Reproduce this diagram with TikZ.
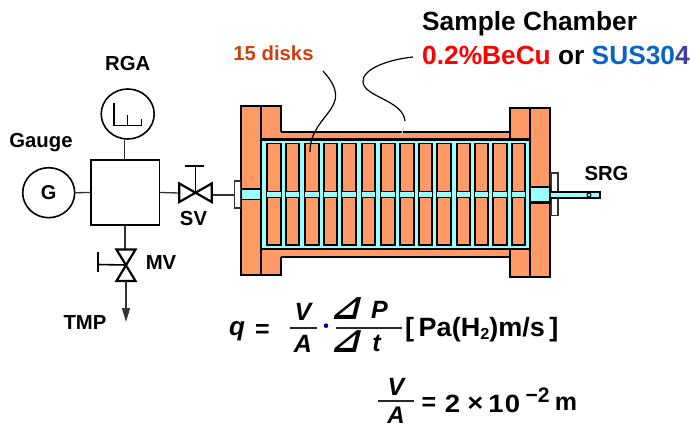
\documentclass[tikz,border=0pt]{standalone}
\usepackage{fontspec}
\setmainfont{Liberation Sans}
\newfontfamily\djv{DejaVu Sans}
\usetikzlibrary{shapes.geometric,arrows.meta}
\definecolor{cuorange}{HTML}{FF9966}
\definecolor{vaccyan}{HTML}{99FFFF}
\definecolor{diskred}{HTML}{CC4010}
\definecolor{susblue}{HTML}{0A64C8}
\definecolor{suspurple}{HTML}{4040A0}
\newcommand{\tx}[1]{\fontsize{#1}{#1}\selectfont\bfseries}
\newcommand{\wide}[1]{\scalebox{1.1}[1]{#1}}
\tikzset{
  x=1pt,y=-1pt,
  thick line/.style={line width=2.1pt,draw=black},
  thin line/.style={line width=1.3pt,draw=black!80},
  metal/.style={thick line,fill=cuorange},
  vac/.style={thick line,fill=vaccyan},
  lbl/.style={inner sep=0pt,font=\tx{20.3}},
  big/.style={inner sep=0pt,font=\tx{26.3}},
  eq/.style={inner sep=0pt,font=\tx{25}},
  eqit/.style={inner sep=0pt,font=\tx{25}\itshape},
  tri/.style={inner sep=0pt,font=\djv\tx{35},xslant=0.25,transform shape},
  fracline/.style={line width=1.6pt,draw=black!85},
  valve/.style={line width=2.2pt,draw=black,fill=white},
  round/.style={ellipse,draw=black,line width=1.6pt,inner sep=0pt},
}
\begin{document}
\begin{tikzpicture}
\useasboundingbox (0,0) rectangle (690,428);
% chamber body
\fill[cuorange] (261,132) rectangle (510,257);
\draw[thick line] (281,132) -- (510,132);
\draw[thick line] (281,257) -- (510,257);
\fill[cuorange] (261,106) rectangle (281,275);
\draw[thick line] (261,106) -- (281,106) -- (281,132);
\draw[thick line] (261,275) -- (281,275) -- (281,257);
\draw[metal] (241,106) rectangle (261,275);
\draw[metal] (510,108) rectangle (530,277);
\draw[metal] (530,108) rectangle (550,277);
\draw[vac] (261,139.5) rectangle (530,249);
\foreach \d in {267.3,286,305.3,324,342.3,361.7,381.3,400.3,418.7,437.3,456.7,475,493.3,511.7}{
  \draw[metal,line width=1.9pt] (\d,143.5) rectangle ++(13.4,101.5);
  \fill[vaccyan] (\d,192) rectangle ++(13.4,5.5);
  \draw[line width=1.7pt] (\d,191.5) -- ++(13.4,0);
  \draw[line width=1.7pt] (\d,197.5) -- ++(13.4,0);
}
% ports
\fill[vaccyan] (242,189.5) rectangle (260,199);
\draw[thick line,line width=1.5pt] (241,189) -- (261,189);
\draw[thick line,line width=1.5pt] (241,199.5) -- (261,199.5);
\draw[thin line,line width=1.5pt,fill=white] (234.5,181) rectangle (240.5,208);
\draw[thin line,fill=white] (551,173) rectangle (558,215.5);
\draw[vac] (530,187) rectangle (550,202.5);
\draw[thick line,fill=vaccyan,line width=1.7pt] (550,192) rectangle (600,198.3);
\draw[line width=1pt,fill=vaccyan] (589,195) circle (2);
% leaders
\coordinate (diskFrom) at (323,71);
\coordinate (diskTo) at (310,152);
\coordinate (chFrom) at (413,57);
\coordinate (chTo) at (405,121);
\draw[line width=1.2pt] (diskFrom) .. controls (340,90) and (338,100) .. (328,113) .. controls (318,126) and (310,135) .. (diskTo);
\draw[line width=1.2pt] (chFrom) .. controls (385,60) and (362,70) .. (363,82) .. controls (364,97) and (403,100) .. (chTo);
\draw[black!15,line width=1pt] (403.5,127) -- (401.5,135);
% left side instruments
\node[draw=black,line width=1.7pt,minimum width=68.3pt,minimum height=65pt,inner sep=0pt] (hub) at (125.2,192.5) {};
\node[round,minimum width=53pt,minimum height=50pt] (rga) at (127.7,114) {};
\node[round,minimum width=52pt,minimum height=50pt,font=\tx{20}] (gauge) at (48.7,192.7) {G};
\draw[line width=1.5pt] (114,103) -- (114,125.7) -- (141.7,125.7) -- (141.7,119);
\draw[line width=1.5pt] (127.7,115) -- (127.7,125.7);
\draw[thin line] (124.3,139) -- (124.3,160);
\draw[thin line] (gauge.east) -- (hub.west);
% SV
\coordinate (sv) at (195.3,193);
\coordinate (svL) at (179.3,193);
\coordinate (svR) at (211.7,195);
\coordinate (capL) at (234.5,195);
\draw[thin line] (hub.east) -- (svL);
\draw[thin line] (svR) -- (capL);
\draw[valve] (179.3,183.5) -- (211.7,202) -- (211.7,183.5) -- (179.3,202) -- cycle;
\draw[line width=1.6pt] (sv) -- (195.3,166);
\draw[line width=1.6pt] (185,166) -- (204,166);
% MV
\coordinate (mv) at (126,265);
\coordinate (mvT) at (125,249.5);
\coordinate (mvB) at (126,281);
\coordinate (tmp) at (126,322);
\draw[thin line] (hub.south -| mvT) -- (mvT);
\draw[valve] (116.5,249.5) -- (135.5,249.5) -- (116.5,281) -- (135.5,281) -- cycle;
\draw[line width=1.6pt] (mv) -- (98,264.5);
\draw[line width=1.6pt] (98,252) -- (98,272);
\draw[thin line,-{Triangle[length=14pt,width=8pt]}] (mvB) -- (tmp);
% labels
\node[lbl] (lrga) at (127.7,64) {RGA};
\node[lbl] (lgauge) at (41,142.5) {Gauge};
\node[lbl] (lsv) at (193.5,219) {SV};
\node[lbl] (lmv) at (161,263) {MV};
\node[lbl] (ltmp) at (85,323) {TMP};
\node[lbl] (lsrg) at (606.5,174) {SRG};
\node[lbl,text=diskred] (ldisks) at (273.5,53) {15 disks};
\node[big,anchor=west] (title) at (422,24) {Sample Chamber};
\node[big,anchor=west] (mat) at (422,55) {\textcolor{red}{0.2\%BeCu} or \textcolor{susblue}{SUS30}\textcolor{suspurple}{4}};
% equation 1
\node[inner sep=0pt,anchor=west,font=\tx{26}\itshape] (q) at (229,331) {q};
\node[inner sep=0pt,anchor=west,font=\tx{25}] (qeq) at (255,331) {=};
\node[eqit] (v1) at (303,312) {V};
\draw[fracline] (290,327.7) -- (316.7,327.7);
\node[eqit] (a1) at (303,344) {A};
\fill[blue!55!black] (326,325.7) circle (2.3);
\node[tri] (d1) at (347.5,309) {⊿};
\node[eqit] (p1) at (379.5,310) {P};
\draw[fracline] (336,327.7) -- (401.7,327.7);
\node[tri] (d2) at (347.5,342) {⊿};
\node[eqit] (t1) at (376.5,343) {t};
\node[eq,anchor=west,font=\tx{26.5}] (unit) at (405,330) {\scalebox{1.02}[1]{[\,Pa(H\raisebox{-3pt}{\fontsize{16}{16}\selectfont 2})m/s\,]}};
% equation 2
\node[eqit] (v2) at (396,387) {V};
\draw[fracline] (378,401) -- (414,401);
\node[eqit,font=\tx{24}\itshape] (a2) at (396,415) {A};
\node[eq] (eq2) at (429,404) {=};
\node[eq] (two) at (452.5,404) {\wide{2}};
\node[eq] (times) at (475.5,404) {\wide{×}};
\node[eq] (one) at (496,404) {\wide{1}};
\node[eq] (zero) at (512.5,404) {\wide{0}};
\node[eq,font=\tx{21}] (exp) at (537.5,395) {−2};
\node[eq] (m) at (566,404) {m};
\end{tikzpicture}
\end{document}
